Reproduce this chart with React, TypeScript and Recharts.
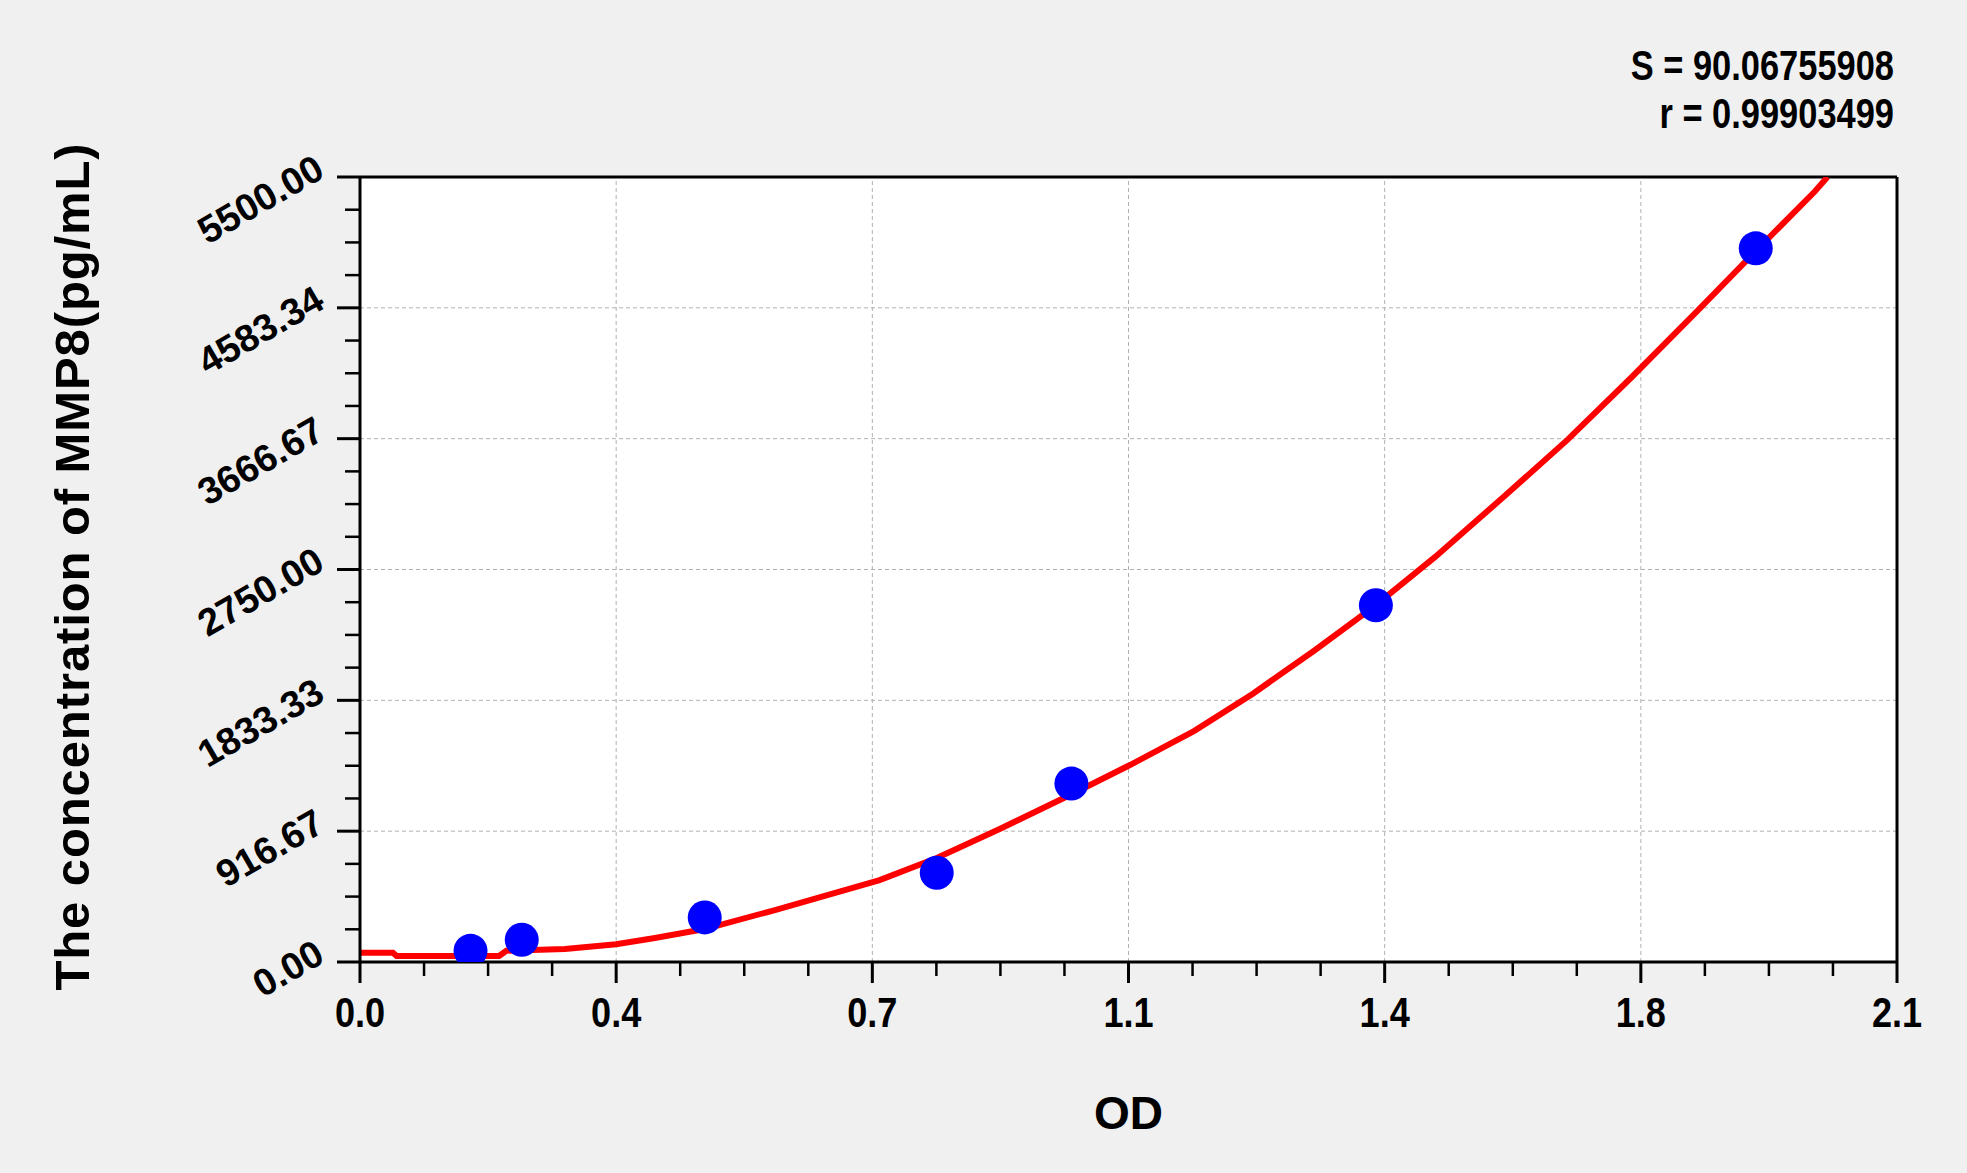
import { ComposedChart, Line, Scatter, XAxis, YAxis, CartesianGrid, ReferenceLine } from 'recharts'

// standards: OD, concentration in pg/mL
const odValues = [0.151, 0.221, 0.471, 0.788, 0.972, 1.388, 1.907]
const concValues = [78.125, 156.25, 312.5, 625, 1250, 2500, 5000]

// fitted curve
const curveOd = [0, 0.045, 0.05, 0.19, 0.2, 0.28, 0.35, 0.403, 0.471, 0.567, 0.71, 0.788, 0.874, 0.973, 1.052, 1.14, 1.22, 1.305, 1.388, 1.469, 1.565, 1.65, 1.736, 1.831, 1.907, 1.988, 2.005]
const curveConc = [65, 65, 42, 42, 79, 91, 125, 168, 231, 364, 574, 729, 932, 1177, 1380, 1620, 1880, 2186, 2501, 2838, 3270, 3660, 4090, 4582, 4981, 5400, 5500]

const xMajorTicks = [0, 0.35, 0.7, 1.05, 1.4, 1.75, 2.1]
const xTickLabels = ['0.0', '0.4', '0.7', '1.1', '1.4', '1.8', '2.1']
const xMinorTicks = [0.0875, 0.175, 0.2625, 0.4375, 0.525, 0.6125, 0.7875, 0.875, 0.9625, 1.1375, 1.225, 1.3125, 1.4875, 1.575, 1.6625, 1.8375, 1.925, 2.0125]

const yMajorTicks = [0, 916.67, 1833.33, 2750, 3666.67, 4583.34, 5500]
const yTickLabels = ['0.00', '916.67', '1833.33', '2750.00', '3666.67', '4583.34', '5500.00']
const yMinorTicks = [229.17, 458.33, 687.5, 1145.83, 1375, 1604.17, 2062.5, 2291.67, 2520.83, 2979.17, 3208.33, 3437.5, 3895.83, 4125, 4354.17, 4812.5, 5041.67, 5270.83]

const statLines = ['S = 90.06755908', 'r = 0.99903499']

const points = odValues.map((x, i) => ({ x, y: concValues[i] }))
const curve = curveOd.map((x, i) => ({ x, y: curveConc[i] }))
const xAllTicks = [...xMajorTicks, ...xMinorTicks].sort((a, b) => a - b)
const yAllTicks = [...yMajorTicks, ...yMinorTicks].sort((a, b) => a - b)

const ARIAL = '"Liberation Sans", Arial, sans-serif'

const W = 1967
const H = 1173

// ticks are drawn here so majors and minors can have different lengths
const XTick = (props: any) => {
  const { x, y, payload } = props
  const i = xMajorTicks.indexOf(payload.value)
  if (i < 0) return <line x1={x} y1={y} x2={x} y2={y + 14} stroke="#000" strokeWidth={2.5} />
  return (
    <g>
      <line x1={x} y1={y} x2={x} y2={y + 21} stroke="#000" strokeWidth={3} />
      <text
        transform={`translate(${x} ${y + 35}) scale(0.86 1)`}
        textAnchor="middle"
        dy="0.72em"
        fontSize={42}
        fontWeight="bold"
        fontFamily={ARIAL}
        fill="#000"
      >
        {xTickLabels[i]}
      </text>
    </g>
  )
}

const YTick = (props: any) => {
  const { x, y, payload } = props
  const i = yMajorTicks.indexOf(payload.value)
  if (i < 0) return <line x1={x - 15} y1={y} x2={x} y2={y} stroke="#000" strokeWidth={2.5} />
  const tx = x - 40
  const ty = y - 12
  return (
    <g>
      <line x1={x - 23} y1={y} x2={x} y2={y} stroke="#000" strokeWidth={3} />
      <text
        x={tx}
        y={ty}
        transform={`rotate(-30 ${tx} ${ty})`}
        textAnchor="end"
        dominantBaseline="central"
        fontSize={38}
        fontWeight="bold"
        fontFamily={ARIAL}
        fill="#000"
      >
        {yTickLabels[i]}
      </text>
    </g>
  )
}

const YTitle = (props: any) => {
  const vb = props.viewBox || { x: 0, y: 0, height: 0 }
  const cx = vb.x + 72
  const cy = vb.y + vb.height / 2 - 3
  return (
    <text
      x={cx}
      y={cy}
      transform={`rotate(-90 ${cx} ${cy})`}
      textAnchor="middle"
      dominantBaseline="central"
      fontSize={49}
      fontWeight="bold"
      fontFamily={ARIAL}
      letterSpacing={0.9}
      fill="#000"
    >
      The concentration of MMP8(pg/mL)
    </text>
  )
}

const XTitle = (props: any) => {
  const vb = props.viewBox || { x: 0, y: 0, width: 0 }
  return (
    <text
      x={vb.x + vb.width / 2}
      y={vb.y + 151}
      textAnchor="middle"
      dominantBaseline="central"
      fontSize={46}
      fontWeight="bold"
      fontFamily={ARIAL}
      fill="#000"
    >
      OD
    </text>
  )
}

const Dot = (props: any) => <circle cx={props.cx} cy={props.cy} r={17} fill="#0000ff" />

export default function App() {
  return (
    <div style={{ position: 'fixed', left: 0, top: 0, width: W, height: H, background: '#f0f0f0' }}>
      <ComposedChart width={W} height={H} margin={{ top: 177, right: 70, left: 0, bottom: 0 }}>
        <CartesianGrid horizontal={false} vertical={false} fill="#ffffff" />
        {xMajorTicks.slice(1, -1).map((v) => (
          <ReferenceLine key={`gx${v}`} x={v} stroke="#b0b0b0" strokeDasharray="4 3" />
        ))}
        {yMajorTicks.slice(1, -1).map((v) => (
          <ReferenceLine key={`gy${v}`} y={v} stroke="#b0b0b0" strokeDasharray="4 3" />
        ))}
        <XAxis
          dataKey="x"
          type="number"
          domain={[0, 2.1]}
          allowDataOverflow
          ticks={xAllTicks}
          interval={0}
          height={211}
          tickSize={0}
          tickMargin={0}
          tickLine={false}
          tick={<XTick />}
          axisLine={{ stroke: '#000', strokeWidth: 3 }}
          label={<XTitle />}
        />
        <YAxis
          dataKey="y"
          type="number"
          domain={[0, 5500]}
          allowDataOverflow
          ticks={yAllTicks}
          interval={0}
          width={360}
          tickSize={0}
          tickMargin={0}
          tickLine={false}
          tick={<YTick />}
          axisLine={{ stroke: '#000', strokeWidth: 3 }}
          label={<YTitle />}
        />
        <ReferenceLine y={5500} stroke="#000" strokeWidth={3} />
        <ReferenceLine x={2.1} stroke="#000" strokeWidth={3} />
        <Scatter data={points} dataKey="y" shape={<Dot />} isAnimationActive={false} />
        <Line
          data={curve}
          dataKey="y"
          type="linear"
          stroke="#ff0000"
          strokeWidth={6}
          dot={false}
          activeDot={false}
          isAnimationActive={false}
        />
      </ComposedChart>
      <svg width={W} height={H} style={{ position: 'absolute', left: 0, top: 0, pointerEvents: 'none' }}>
        {statLines.map((s, i) => (
          <text
            key={s}
            transform={`translate(1894 ${65 + i * 48}) scale(0.82 1)`}
            textAnchor="end"
            dominantBaseline="central"
            fontSize={42}
            fontWeight="bold"
            fontFamily={ARIAL}
            fill="#000"
          >
            {s}
          </text>
        ))}
      </svg>
    </div>
  )
}
